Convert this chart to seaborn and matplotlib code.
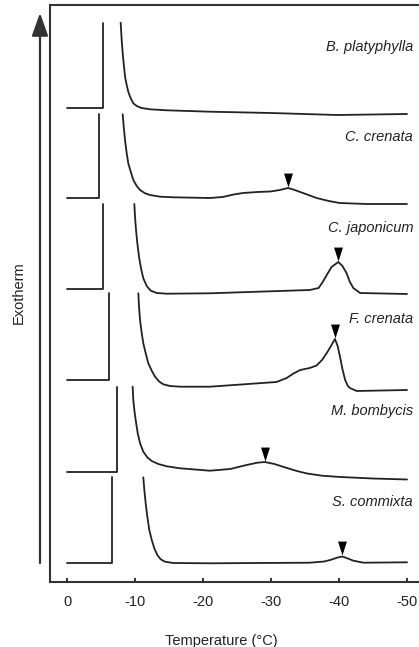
import numpy as np
import pandas as pd
import seaborn as sns
import matplotlib.pyplot as plt
from matplotlib import transforms
from matplotlib.patches import FancyArrowPatch

sns.set_theme(style="white")
plt.rcParams["font.family"] = ["Liberation Sans", "DejaVu Sans"]
plt.rcParams["axes.unicode_minus"] = False

# Species (top to bottom)
species = ["B. platyphylla", "C. crenata", "C. japonicum",
           "F. crenata", "M. bombycis", "S. commixta"]

# Supercooling step: baseline level, nucleation temperature, top of jump
step_temp = [-5.3, -4.75, -5.35, -6.2, -7.3, -6.65]
step_base = [474, 384, 293, 202, 110, 19]
step_top = [559, 468, 378, 289, 195, 105]

# Exotherm traces (temperature, signal in arbitrary offset units)
bp_temp = [-7.89, -8.04, -8.19, -8.38, -8.57, -8.78, -9.01, -9.37, -9.75, -10.25, -10.99,
           -12.21, -14.66, -21.0, -30.0, -39.7, -50.0]
bp_signal = [559.3, 542, 528.7, 515.3, 503.7, 497, 490.3, 483.7, 478.7, 476, 474,
             472.7, 471.7, 470.3, 469, 467, 468]

cc_temp = [-8.19, -8.34, -8.53, -8.78, -9.01, -9.37, -9.75, -10.25, -10.74, -11.47, -12.21,
           -13.68, -15.63, -21.0, -22.9, -24.5, -25.9, -28.0, -29.9, -31.3, -32.5, -33.5,
           -34.3, -35.5, -36.7, -38.5, -40.1, -44.1, -50.0]
cc_signal = [467.7, 455.3, 442, 428.7, 418.7, 410.3, 402, 396, 392, 388.7, 387,
             385.3, 384.7, 384, 385, 387.5, 389, 390, 390.5, 392, 394, 392,
             390, 387, 384, 381, 379, 378, 378]

cj_temp = [-9.9, -10.0, -10.15, -10.34, -10.59, -10.88, -11.22, -11.72, -12.31, -13.19,
           -14.66, -21.0, -35.7, -37.0, -37.6, -38.2, -38.9, -39.9, -40.5, -41.1, -41.6,
           -42.1, -43.1, -50.0]
cj_signal = [378, 365.3, 352, 338.7, 325.3, 313.7, 303.7, 296, 291.3, 289,
             288.3, 288.7, 292, 294, 300, 307, 315, 320, 316, 309, 300,
             294, 289, 288]

fc_temp = [-10.49, -10.59, -10.74, -10.99, -11.22, -11.57, -11.96, -12.46, -12.94, -13.58,
           -14.16, -15.15, -16.62, -21.0, -30.8, -32.3, -33.3, -34.3, -35.7, -36.7, -37.5,
           -38.2, -38.9, -39.4, -39.8, -40.15, -40.5, -40.9, -41.3, -41.6, -42.6, -50.0]
fc_signal = [288.7, 275.3, 262, 248.7, 238.7, 228.7, 218.7, 211.3, 205.3, 200.3,
             197.7, 196, 195.3, 195.3, 200, 204, 208.5, 212, 214, 216.5, 222,
             229, 237, 243, 236, 225, 213, 202, 196, 194, 191, 192]

mb_temp = [-9.65, -9.75, -9.9, -10.1, -10.4, -10.74, -11.22, -11.81, -12.46, -13.43, -14.66,
           -16.62, -21.0, -24.0, -26.4, -28.0, -29.1, -30.5, -32.1, -33.8, -35.3, -37.5,
           -40.2, -45.0, -50.0]
mb_signal = [195.3, 182, 172, 162, 148.7, 138.7, 130.3, 124.7, 121, 118, 115.7,
             113.7, 111.3, 113, 117, 119.3, 120, 118, 114.5, 111, 108.5, 106.3,
             105, 103.5, 102.5]

sc_temp = [-11.22, -11.37, -11.57, -11.81, -12.1, -12.46, -12.84, -13.28, -13.78, -14.41,
           -15.63, -21.0, -35.7, -37.8, -38.7, -39.8, -40.5, -41.3, -42.1, -43.6, -50.0]
sc_signal = [104.7, 92, 78.7, 65.3, 52, 42, 33.7, 27, 22.7, 20.3,
             19, 18.7, 19.3, 20.5, 22, 24.5, 25.5, 23.5, 21.3, 19.3, 19.7]

# Exotherm peaks marked with arrowheads
peak_temp = [-32.5, -39.9, -39.4, -29.1, -40.5]
peak_signal = [394, 320, 243, 120, 25.5]

curve_temps = [bp_temp, cc_temp, cj_temp, fc_temp, mb_temp, sc_temp]
curve_signals = [bp_signal, cc_signal, cj_signal, fc_signal, mb_signal, sc_signal]

rows = []
for i, name in enumerate(species):
    for t, s in [(0, step_base[i]), (step_temp[i], step_base[i]), (step_temp[i], step_top[i])]:
        rows.append({"trace": f"{name} step", "Temperature": t, "Signal": s})
    for t, s in zip(curve_temps[i], curve_signals[i]):
        rows.append({"trace": f"{name} curve", "Temperature": t, "Signal": s})
df = pd.DataFrame(rows)

fig = plt.figure(figsize=(4.19, 6.47), dpi=100)
ax = fig.add_axes([50 / 419, 65 / 647, 369 / 419, 577 / 647])

sns.lineplot(data=df, x="Temperature", y="Signal", units="trace", estimator=None,
             sort=False, color="#222222", linewidth=1.3, ax=ax, legend=False)

# peak markers (tall down-pointing triangles sitting just above the peak)
tri = [(-0.32, 0.5), (0.32, 0.5), (0.0, -0.5)]
marker_tr = transforms.offset_copy(ax.transData, fig=fig, y=6, units="points")
ax.scatter(peak_temp, peak_signal, marker=tri, s=100, color="black",
           transform=marker_tr, zorder=3, linewidths=0)

# species labels
label_tr = transforms.blended_transform_factory(ax.transAxes, ax.transData)
for i, name in enumerate(species):
    ax.text(0.984, step_base[i] + 61, name, transform=label_tr, ha="right", va="center",
            fontsize=10.5, style="italic", color="#222222")

ax.set_xlim(2.5, -51.76)
ax.set_ylim(0, 577)
ax.set_xticks([0, -10, -20, -30, -40, -50])
ax.set_yticks([])
ax.tick_params(axis="x", direction="in", length=3, width=1.3, pad=9,
               labelsize=10.5, colors="#222222", bottom=True)
for side in ["left", "top", "bottom"]:
    ax.spines[side].set_color("#333333")
    ax.spines[side].set_linewidth(1.5)
ax.spines["right"].set_visible(False)

ax.set_xlabel("Temperature (\u00b0C)", fontsize=10.5, color="#222222")
ax.xaxis.set_label_coords(0.463, -0.09)
ax.set_ylabel("")

fig.text(18.7 / 419, 0.547, "Exotherm", rotation=90, ha="center", va="center",
         fontsize=10.5, color="#222222")
fig.add_artist(FancyArrowPatch((40 / 419, 0.1298), (40 / 419, 0.98),
                               transform=fig.transFigure,
                               arrowstyle="-|>,head_length=0.7,head_width=0.25",
                               mutation_scale=20, lw=1.6, color="#333333",
                               shrinkA=0, shrinkB=0))

fig.savefig("out.png", dpi=100)
